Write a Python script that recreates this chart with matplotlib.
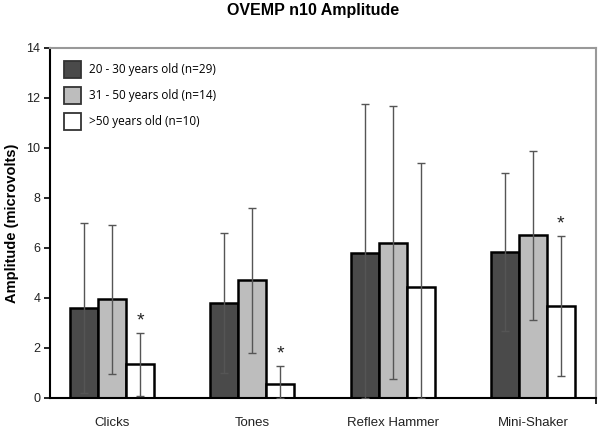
import matplotlib
matplotlib.use("Agg")
import matplotlib.pyplot as plt
import numpy as np
from matplotlib.patches import Patch

categories = ["Clicks", "Tones", "Reflex Hammer", "Mini-Shaker"]
series_labels = ["20 - 30 years old (n=29)", "31 - 50 years old (n=14)", ">50 years old (n=10)"]
means_20_30 = [3.59, 3.81, 5.79, 5.85]
sd_20_30 = [3.40, 2.79, 5.97, 3.17]
means_31_50 = [3.95, 4.71, 6.21, 6.51]
sd_31_50 = [2.98, 2.89, 5.46, 3.37]
means_over50 = [1.35, 0.56, 4.45, 3.68]
sd_over50 = [1.25, 0.72, 4.95, 2.80]
significant_over50 = [True, True, False, True]
yticks = [0, 2, 4, 6, 8, 10, 12, 14]

plt.rcParams['font.family'] = ['Liberation Sans', 'DejaVu Sans']

fig = plt.figure(figsize=(6, 4.3), dpi=100)
ax = fig.add_axes([50/600, 1-398/430, 546/600, 350/430])

colors = ["#4a4a4a", "#bdbdbd", "#ffffff"]
all_means = [means_20_30, means_31_50, means_over50]
all_sd = [sd_20_30, sd_31_50, sd_over50]
x = np.arange(len(categories))
w = 0.2
for i, (m, s) in enumerate(zip(all_means, all_sd)):
    m = np.array(m); s = np.array(s)
    pos = x + (i - 1) * w
    ax.bar(pos, m, width=w, color=colors[i], edgecolor="black", linewidth=1.8, zorder=2)
    lower = np.minimum(s, m)
    ax.errorbar(pos, m, yerr=[lower, s], fmt="none", ecolor="#555555",
                elinewidth=1.0, capsize=3, capthick=1.0, zorder=3)

for j, sig in enumerate(significant_over50):
    if sig:
        top = means_over50[j] + sd_over50[j]
        ax.text(x[j] + w, top + 0.15, "*", ha="center", va="bottom", fontsize=14, color="#222222")

ax.set_xlim(-0.443, 3.45)
ax.set_ylim(0, 14)
ax.set_yticks(yticks)
ax.set_yticklabels([str(t) for t in yticks], fontsize=9, color="#222222")
ax.set_xticks(x)
ax.set_xticklabels(categories, fontsize=9.5, color="#222222")
ax.set_xticks([3.45], minor=True)
ax.tick_params(axis="x", which="major", length=0, pad=14)
ax.tick_params(axis="x", which="minor", length=4, width=1.2, direction="out")
ax.tick_params(axis="y", length=4, width=1.2, direction="out", pad=3)

for sp in ["left", "bottom"]:
    ax.spines[sp].set_color("black")
    ax.spines[sp].set_linewidth(1.5)
for sp in ["top", "right"]:
    ax.spines[sp].set_color("#999999")
    ax.spines[sp].set_linewidth(1.5)

ax.set_ylabel("Amplitude (microvolts)", fontsize=10.5, fontweight="bold", labelpad=5)

fig.text(313/600, 1-10.5/430, "OVEMP n10 Amplitude", ha="center", va="center",
         fontsize=11.5, fontweight="bold")

handles = [Patch(facecolor=c, edgecolor="#333333", linewidth=1.3) for c in colors]
leg = ax.legend(handles, series_labels, loc="upper left", bbox_to_anchor=(14/546, 1-13/350),
                frameon=False, prop={"family": "Open Sans", "size": 8.5},
                borderpad=0, borderaxespad=0,
                handlelength=1.47, handleheight=1.8, labelspacing=0.79, handletextpad=0.65)

fig.savefig("out.png", dpi=100)
